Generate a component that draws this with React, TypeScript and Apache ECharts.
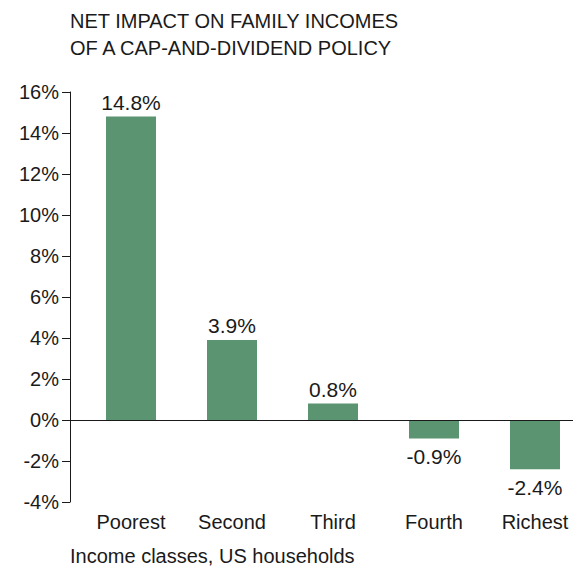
import React, { useEffect, useRef } from "react";
import * as echarts from "echarts";

const categories = ["Poorest", "Second", "Third", "Fourth", "Richest"];
const values = [14.8, 3.9, 0.8, -0.9, -2.4];
const yTicks = { min: -4, max: 16, interval: 2 };
const titleText = "NET IMPACT ON FAMILY INCOMES\nOF A CAP-AND-DIVIDEND POLICY";
const xAxisTitle = "Income classes, US households";

const FONT = "'Liberation Sans', Arial, sans-serif";
const TEXT = "#1a1a1a";
const BAR = "#5a9470";

export default function App() {
  const ref = useRef<HTMLDivElement>(null);
  useEffect(() => {
    document.body.style.margin = "0";
    document.body.style.overflow = "hidden";
    document.documentElement.style.overflow = "hidden";
    if (!ref.current) return;
    const chart = echarts.init(ref.current, undefined, { renderer: "svg" });
    chart.setOption({
      animation: false,
      backgroundColor: "#ffffff",
      textStyle: { fontFamily: FONT },
      title: [
        {
          text: titleText,
          left: 70,
          top: 7,
          padding: 0,
          textStyle: { fontFamily: FONT, fontSize: 20, fontWeight: "normal", color: TEXT, lineHeight: 27 },
        },
        {
          text: xAxisTitle,
          left: 70,
          top: 546,
          padding: 0,
          textStyle: { fontFamily: FONT, fontSize: 20, fontWeight: "normal", color: TEXT, lineHeight: 20 },
        },
      ],
      grid: { left: 80.5, width: 505, top: 92, height: 410, containLabel: false },
      xAxis: {
        type: "category",
        data: categories,
        axisLine: { show: false },
        axisTick: { show: false },
        splitLine: { show: false },
        axisLabel: {
          margin: 10,
          fontSize: 20,
          color: TEXT,
          fontFamily: FONT,
        },
      },
      yAxis: {
        type: "value",
        min: yTicks.min,
        max: yTicks.max,
        interval: yTicks.interval,
        offset: 10.5,
        axisLine: { show: true, onZero: false, lineStyle: { color: TEXT, width: 1 } },
        axisTick: { show: true, length: 8, inside: false, lineStyle: { color: TEXT, width: 1 } },
        splitLine: { show: false },
        axisLabel: {
          formatter: "{value}%",
          margin: 11,
          fontSize: 20,
          color: TEXT,
          fontFamily: FONT,
        },
      },
      series: [
        {
          type: "bar",
          barWidth: 50,
          itemStyle: { color: BAR },
          data: values.map((v) => ({
            value: v,
            label: {
              show: true,
              position: v >= 0 ? "top" : "bottom",
              distance: v >= 0 ? 4 : 8,
              formatter: v.toFixed(1) + "%",
              fontSize: 21,
              color: TEXT,
              fontFamily: FONT,
            },
          })),
        },
      ],
    });
    const zeroY = chart.convertToPixel({ yAxisIndex: 0 }, 0) as number;
    chart.setOption({
      graphic: [
        {
          type: "line",
          silent: true,
          shape: { x1: 70, y1: Math.round(zeroY) + 0.5, x2: 573, y2: Math.round(zeroY) + 0.5 },
          style: { stroke: TEXT, lineWidth: 1 },
          z: 10,
        },
      ],
    });
    return () => chart.dispose();
  }, []);
  return <div ref={ref} style={{ width: 600, height: 567 }} />;
}
